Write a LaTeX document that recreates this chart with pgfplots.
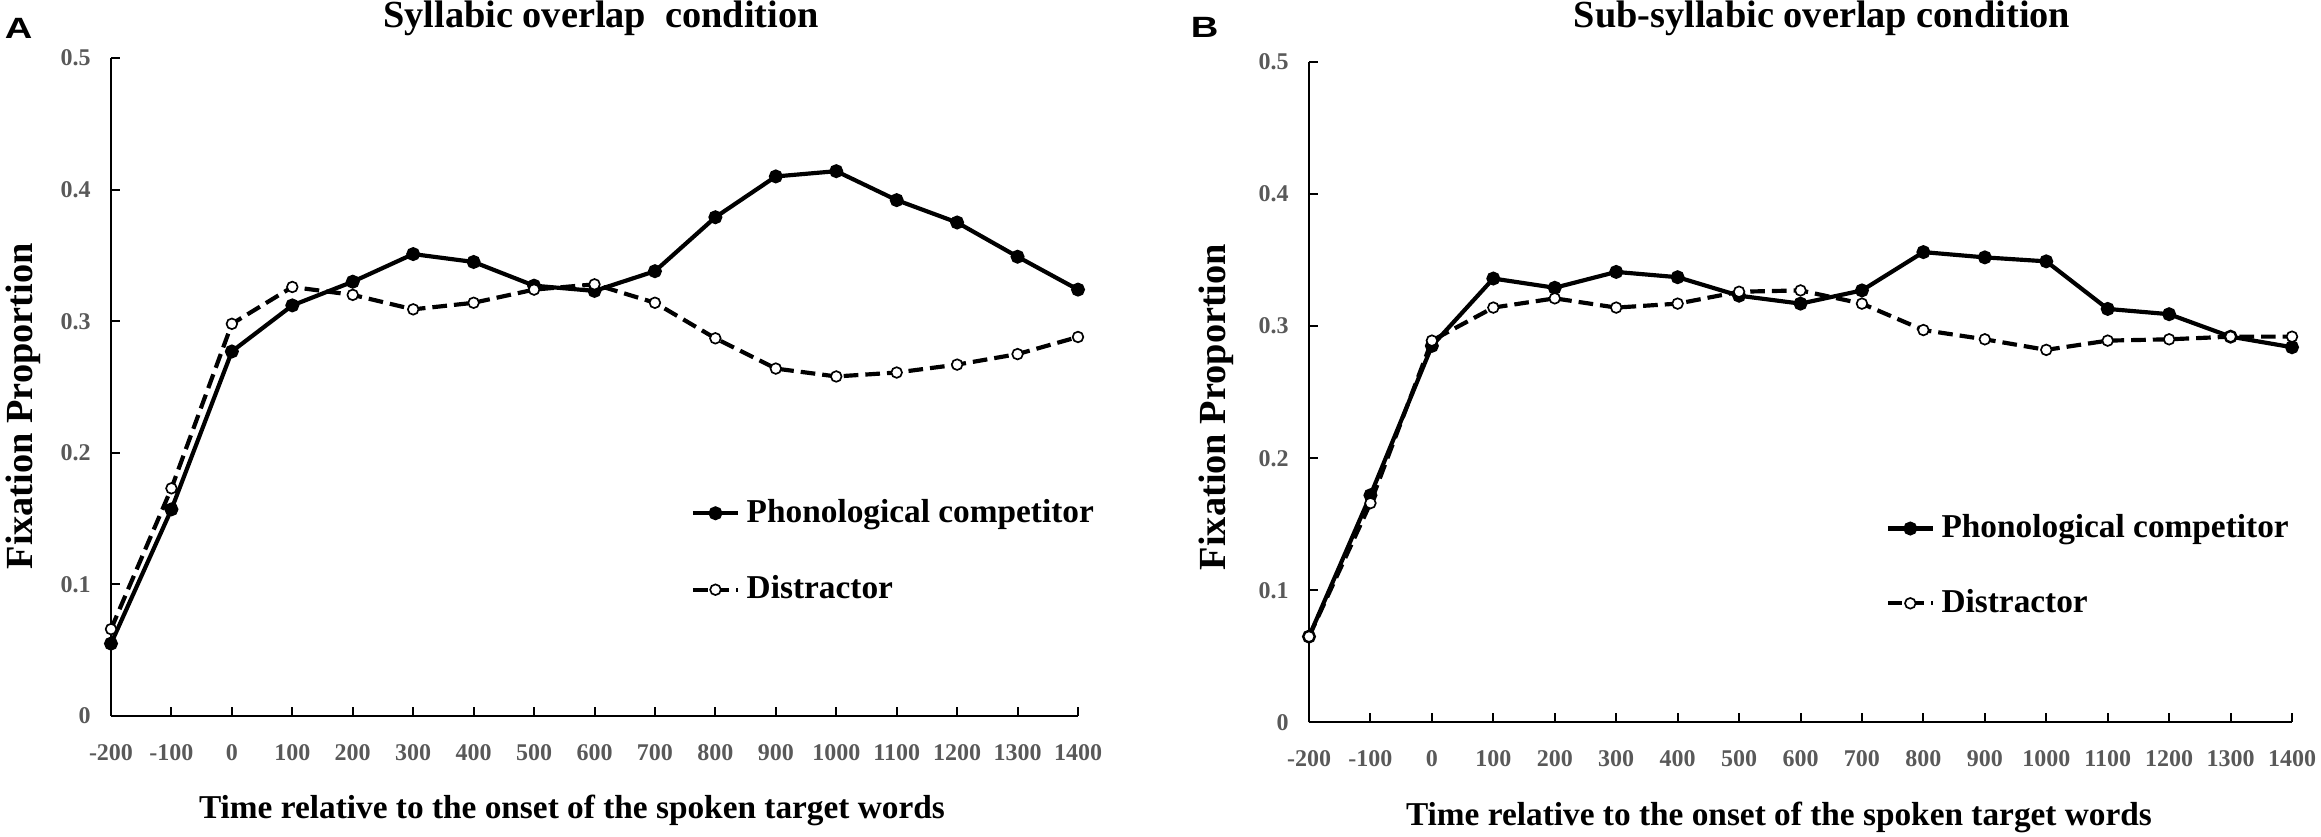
\documentclass[border=0pt]{standalone}
\usepackage{fontspec}
\setmainfont{Liberation Serif}
\newfontfamily\sansfont{Liberation Sans}
\usepackage{pgfplots}
\pgfplotsset{compat=1.18}
\definecolor{tickgray}{HTML}{595959}

\pgfplotstableread{
t    phon   dist
-200 0.055  0.066
-100 0.157  0.173
0    0.277  0.298
100  0.312  0.326
200  0.330  0.320
300  0.351  0.309
400  0.345  0.314
500  0.327  0.324
600  0.323  0.328
700  0.338  0.314
800  0.379  0.287
900  0.410  0.264
1000 0.414  0.258
1100 0.392  0.261
1200 0.375  0.267
1300 0.349  0.275
1400 0.324  0.288
}\dataA

\pgfplotstableread{
t    phon   dist
-200 0.065  0.065
-100 0.172  0.166
0    0.285  0.289
100  0.336  0.314
200  0.329  0.321
300  0.341  0.314
400  0.337  0.317
500  0.323  0.326
600  0.317  0.327
700  0.327  0.317
800  0.356  0.297
900  0.352  0.290
1000 0.349  0.282
1100 0.313  0.289
1200 0.309  0.290
1300 0.292  0.292
1400 0.284  0.292
}\dataB

\pgfplotsset{
  legend image code/.code={\draw[mark repeat=2,mark phase=2,#1] plot coordinates {(0pt,0pt) (6.75pt,0pt) (13.5pt,0pt)};},
  panel/.style={
    scale only axis, clip=false,
    xmin=-200, xmax=1400, ymin=0, ymax=0.5,
    axis x line=bottom, axis y line=left,
    axis line style={-, line width=0.6pt, black},
    tick align=inside, major tick length=2.7pt,
    every tick/.style={line width=0.6pt, black},
    xtick={-200,-100,...,1400},
    xticklabels={-200,-100,0,100,200,300,400,500,600,700,800,900,1000,1100,1200,1300,1400},
    ytick={0,0.1,0.2,0.3,0.4,0.5},
    yticklabels={0,0.1,0.2,0.3,0.4,0.5},
    /pgf/number format/assume math mode=true,
    ticklabel style={font=\fontsize{7.2}{8}\selectfont\bfseries, text=tickgray},
    xticklabel style={yshift=-5pt},
    yticklabel style={xshift=-2.6pt},
    legend style={draw=none, fill=none, font=\fontsize{10}{12}\selectfont\bfseries,
      inner sep=0pt},
    legend cell align=left,
  },
  phon/.style={black, line width=1.25pt, mark=*, mark size=1.45pt, mark options={solid, fill=black}},
  dist/.style={black, line width=1.25pt, dash pattern=on 4.4pt off 2.1pt, mark=*, mark size=1.6pt,
    mark options={solid, fill=white, line width=0.5pt}},
}

\begin{document}
\begin{tikzpicture}
\useasboundingbox (0,0) rectangle (696.3pt,251.1pt);

% Panel A
\begin{axis}[panel, width=290.1pt, height=197.4pt, at={(33.3pt,36.3pt)}, anchor=south west,
  legend style={at={(0.599,0.250)}, anchor=west, row sep=10.5pt}]
\addplot[phon] table[x=t, y=phon] {\dataA};
\addlegendentry{Phonological competitor}
\addplot[dist] table[x=t, y=dist] {\dataA};
\addlegendentry{Distractor}
\end{axis}

% Panel B
\begin{axis}[panel, width=294.9pt, height=198.2pt, at={(392.7pt,34.35pt)}, anchor=south west,
  legend style={at={(0.586,0.237)}, anchor=west, row sep=10pt}]
\addplot[phon] table[x=t, y=phon] {\dataB};
\addlegendentry{Phonological competitor}
\addplot[dist] table[x=t, y=dist] {\dataB};
\addlegendentry{Distractor}
\end{axis}

% titles
\node[anchor=base, font=\fontsize{11.5}{13}\selectfont\bfseries, inner sep=0pt] at (180.3pt,242.7pt) {Syllabic overlap\ \ condition};
\node[anchor=base, font=\fontsize{11.5}{13}\selectfont\bfseries, inner sep=0pt] at (546.6pt,242.7pt) {Sub-syllabic overlap condition};
% panel letters
\node[anchor=base west, font=\fontsize{8.8}{10}\selectfont\sansfont\bfseries, inner sep=0pt, xscale=1.3] at (1.2pt,239.4pt) {A};
\node[anchor=base west, font=\fontsize{8.8}{10}\selectfont\sansfont\bfseries, inner sep=0pt, xscale=1.3] at (357pt,239.7pt) {B};
% x labels
\node[anchor=base, font=\fontsize{10}{12}\selectfont\bfseries, inner sep=0pt] at (171.6pt,5.4pt) {Time relative to the onset of the spoken target words};
\node[anchor=base, font=\fontsize{10}{12}\selectfont\bfseries, inner sep=0pt] at (533.7pt,3.3pt) {Time relative to the onset of the spoken target words};
% y labels
\node[anchor=base, rotate=90, font=\fontsize{11.5}{13}\selectfont\bfseries, inner sep=0pt] at (9.9pt,129.2pt) {Fixation Proportion};
\node[anchor=base, rotate=90, font=\fontsize{11.5}{13}\selectfont\bfseries, inner sep=0pt] at (367.5pt,129pt) {Fixation Proportion};
\end{tikzpicture}
\end{document}
